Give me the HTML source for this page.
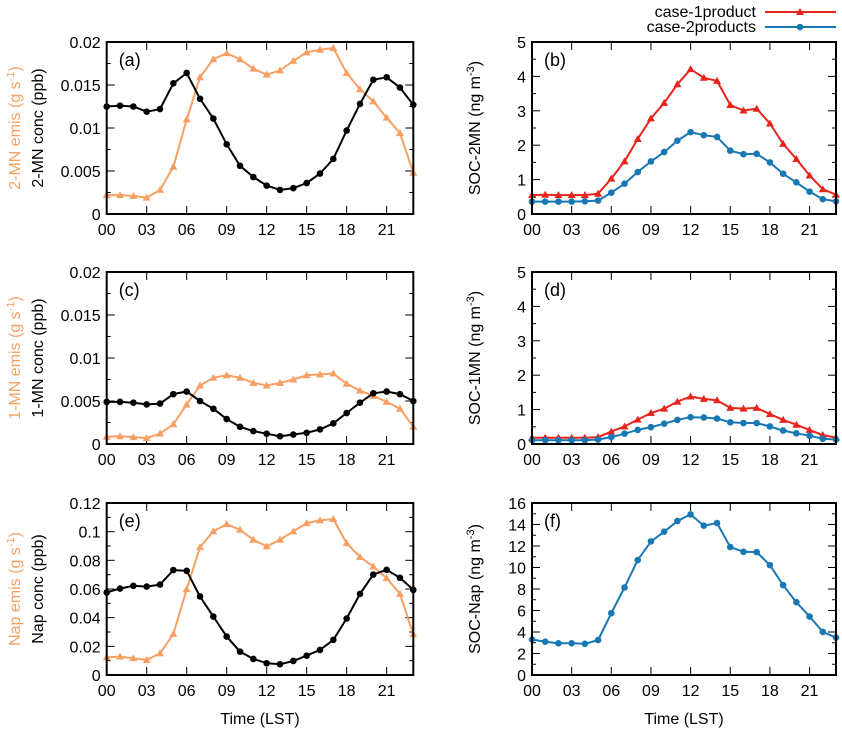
<!DOCTYPE html>
<html><head><meta charset="utf-8"><style>
body{margin:0;background:#fff;}
svg{display:block;font-family:"Liberation Sans",sans-serif;}
</style></head><body>
<svg id="fig" width="842" height="733"></svg>
<script>
const hours=[0,1,2,3,4,5,6,7,8,9,10,11,12,13,14,15,16,17,18,19,20,21,22,23];
const xTickLabels=["00","03","06","09","12","15","18","21"];
const emis2MN=[0.0022,0.0022,0.0021,0.0019,0.0028,0.0055,0.011,0.0159,0.018,0.0187,0.018,0.0169,0.0162,0.0167,0.0178,0.0188,0.0191,0.0193,0.0164,0.0145,0.0131,0.0112,0.0094,0.0048];
const conc2MN=[0.0125,0.0126,0.0125,0.0119,0.0122,0.0152,0.0164,0.0134,0.0111,0.0081,0.0056,0.0043,0.0033,0.0028,0.003,0.0036,0.0047,0.0064,0.0097,0.0128,0.0156,0.0159,0.0147,0.0127];
const soc2MN1=[0.55,0.56,0.55,0.55,0.55,0.59,1.03,1.53,2.18,2.78,3.23,3.77,4.21,3.96,3.87,3.17,3.01,3.06,2.63,2.04,1.6,1.12,0.72,0.56];
const soc2MN2=[0.36,0.36,0.36,0.36,0.37,0.39,0.62,0.88,1.22,1.53,1.8,2.13,2.38,2.29,2.24,1.84,1.74,1.75,1.5,1.17,0.92,0.65,0.43,0.37];
const emis1MN=[0.00085,0.0009,0.0008,0.0007,0.0012,0.0023,0.0046,0.0068,0.0077,0.008,0.0077,0.0071,0.0068,0.0071,0.0075,0.008,0.0081,0.0082,0.007,0.0062,0.0056,0.0049,0.0041,0.002];
const conc1MN=[0.0049,0.0049,0.0048,0.0046,0.0047,0.0058,0.0061,0.005,0.0041,0.0029,0.002,0.0015,0.0012,0.0009,0.0011,0.0013,0.0017,0.0024,0.0036,0.0048,0.0059,0.0061,0.0058,0.005];
const soc1MN1=[0.18,0.18,0.18,0.18,0.18,0.2,0.36,0.51,0.71,0.9,1.03,1.23,1.38,1.31,1.27,1.05,1.03,1.05,0.87,0.7,0.56,0.41,0.26,0.19];
const soc1MN2=[0.11,0.11,0.11,0.11,0.11,0.13,0.2,0.3,0.41,0.49,0.59,0.7,0.78,0.77,0.74,0.63,0.61,0.61,0.51,0.39,0.31,0.24,0.15,0.13];
const emisNap=[0.0124,0.0128,0.0117,0.0105,0.0151,0.0287,0.0599,0.0892,0.1002,0.1053,0.1014,0.0944,0.0897,0.0944,0.1002,0.106,0.1079,0.1088,0.092,0.0823,0.0757,0.0676,0.0566,0.0284];
const concNap=[0.0576,0.0603,0.0622,0.0617,0.0631,0.0732,0.0727,0.0548,0.0408,0.0268,0.0163,0.0112,0.0082,0.0075,0.0098,0.0135,0.0175,0.0245,0.0394,0.0566,0.0701,0.0734,0.0678,0.0594];
const socNap=[3.3,3.1,2.95,2.95,2.9,3.25,5.75,8.14,10.69,12.43,13.33,14.32,14.94,13.89,14.14,11.9,11.46,11.43,10.22,8.36,6.77,5.44,4.01,3.48];
const yTicksA=["0","0.005","0.01","0.015","0.02"];
const yTicksB=["0","1","2","3","4","5"];
const yTicksE=["0","0.02","0.04","0.06","0.08","0.1","0.12"];
const yTicksF=["0","2","4","6","8","10","12","14","16"];

const NS="http://www.w3.org/2000/svg";
const svg=document.getElementById('fig');
const ORANGE="#f8a064",RED="#e8241c",BLUE="#1878b4";
function mk(tag,attrs,parent){const e=document.createElementNS(NS,tag);for(const k in attrs)e.setAttribute(k,attrs[k]);(parent||svg).appendChild(e);return e;}
function txt(s,x,y,attrs,parent){const e=mk('text',Object.assign({x:x,y:y,'font-size':16},attrs),parent);e.textContent=s;return e;}

function panel(p){
  const g=mk('g',{});
  
  
  const X=h=>p.x0+(h-0)/23*(p.x1-p.x0);
  const Y=v=>p.y1-(v/p.ymax)*(p.y1-p.y0);
  // ticks y
  const n=p.yt.length-1;
  for(let i=0;i<=n;i++){
    const v=p.ymax*i/n,y=Y(v);
    mk('line',{x1:p.x0,x2:p.x0+8,y1:y,y2:y,stroke:'#000','stroke-width':1},g);
    mk('line',{x1:p.x1,x2:p.x1-8,y1:y,y2:y,stroke:'#000','stroke-width':1},g);
    const t=txt(p.yt[i],p.x0-6,y+6,{'text-anchor':'end'},g);
    
    
    if(i<n){const ym=Y(v+p.ymax/n/2);
      mk('line',{x1:p.x0,x2:p.x0+4,y1:ym,y2:ym,stroke:'#000'},g);
      mk('line',{x1:p.x1,x2:p.x1-4,y1:ym,y2:ym,stroke:'#000'},g);}
  }
  xTickLabels.forEach((l,i)=>{const x=X(i*3);
    mk('line',{x1:x,x2:x,y1:p.y1,y2:p.y1-8,stroke:'#000'},g);
    mk('line',{x1:x,x2:x,y1:p.y0,y2:p.y0+8,stroke:'#000'},g);
    const t=txt(l,x,p.y1+21,{'text-anchor':'middle'},g);
    
    
  });
  p.series.forEach(s=>{
    const pts=hours.map((h,i)=>X(h).toFixed(1)+','+Y(s.data[i]).toFixed(1)).join(' ');
    const l=mk('polyline',{points:pts,fill:'none',stroke:s.color,'stroke-width':2},g);
    
    
    hours.forEach((h,i)=>{const cx=X(h),cy=Y(s.data[i]);let m;
      if(s.marker==='tri') m=mk('polygon',{points:`${cx},${cy-4} ${cx-4},${cy+3} ${cx+4},${cy+3}`,fill:s.color},g);
      else m=mk('circle',{cx:cx,cy:cy,r:3.3,fill:s.color},g);
      
      
    });
  });
  mk('rect',{x:p.x0,y:p.y0,width:p.x1-p.x0,height:p.y1-p.y0,fill:'none',stroke:'#000','stroke-width':2},g);
  const lab=txt('('+p.id+')',p.x0+12,p.y0+24,{'font-size':18},g);
  
  
  p.ylabels.forEach(yl=>{const t=txt('',0,0,{'text-anchor':'middle',transform:`translate(${yl.x},${(p.y0+p.y1)/2}) rotate(-90)`,fill:yl.color},g);
    t.innerHTML=yl.html;
    
    });
}
const L={x0:106.7,x1:413.3},R={x0:532,x1:836};
const rows=[{y0:42,y1:214},{y0:272,y1:444},{y0:503,y1:675}];
panel({id:'a',...L,...rows[0],ymax:0.02,yt:yTicksA,series:[{data:emis2MN,color:ORANGE,marker:'tri',name:'emis-2mn'},{data:conc2MN,color:'#000',marker:'dot',name:'conc-2mn'}],
 ylabels:[{x:20,color:ORANGE,html:'2-MN emis (g s<tspan dy="-6" font-size="11">-1</tspan><tspan dy="6">)</tspan>'},{x:43,color:'#000',html:'2-MN conc (ppb)'}]});
panel({id:'b',...R,...rows[0],ymax:5,yt:yTicksB,series:[{data:soc2MN1,color:RED,marker:'tri',name:'case-1product'},{data:soc2MN2,color:BLUE,marker:'dot',name:'case-2products'}],
 ylabels:[{x:480,color:'#000',html:'SOC-2MN (ng m<tspan dy="-6" font-size="11">-3</tspan><tspan dy="6">)</tspan>'}]});
panel({id:'c',...L,...rows[1],ymax:0.02,yt:yTicksA,series:[{data:emis1MN,color:ORANGE,marker:'tri',name:'emis-1mn'},{data:conc1MN,color:'#000',marker:'dot',name:'conc-1mn'}],
 ylabels:[{x:20,color:ORANGE,html:'1-MN emis (g s<tspan dy="-6" font-size="11">-1</tspan><tspan dy="6">)</tspan>'},{x:43,color:'#000',html:'1-MN conc (ppb)'}]});
panel({id:'d',...R,...rows[1],ymax:5,yt:yTicksB,series:[{data:soc1MN1,color:RED,marker:'tri',name:'case-1product'},{data:soc1MN2,color:BLUE,marker:'dot',name:'case-2products'}],
 ylabels:[{x:480,color:'#000',html:'SOC-1MN (ng m<tspan dy="-6" font-size="11">-3</tspan><tspan dy="6">)</tspan>'}]});
panel({id:'e',...L,...rows[2],ymax:0.12,yt:yTicksE,series:[{data:emisNap,color:ORANGE,marker:'tri',name:'emis-nap'},{data:concNap,color:'#000',marker:'dot',name:'conc-nap'}],
 ylabels:[{x:20,color:ORANGE,html:'Nap emis (g s<tspan dy="-6" font-size="11">-1</tspan><tspan dy="6">)</tspan>'},{x:43,color:'#000',html:'Nap conc (ppb)'}]});
panel({id:'f',...R,...rows[2],ymax:16,yt:yTicksF,series:[{data:socNap,color:BLUE,marker:'dot',name:'soc-nap'}],
 ylabels:[{x:480,color:'#000',html:'SOC-Nap (ng m<tspan dy="-6" font-size="11">-3</tspan><tspan dy="6">)</tspan>'}]});
// x titles
[[260,'x-axis-title-left'],[684,'x-axis-title-right']].forEach(a=>{const t=txt('Time (LST)',a[0],724,{'text-anchor':'middle'});
 
 });
// legend
const lg=mk('g',{});


[[12,'case-1product',RED,'tri'],[27,'case-2products',BLUE,'dot']].forEach(e=>{
 const t=txt(e[1],756,e[0]+5,{'text-anchor':'end'},lg);
 
 
 mk('line',{x1:765,x2:836,y1:e[0],y2:e[0],stroke:e[2],'stroke-width':2},lg);
 if(e[3]==='tri') mk('polygon',{points:`800,${e[0]-4} 796,${e[0]+3} 804,${e[0]+3}`,fill:e[2]},lg);
 else mk('circle',{cx:800,cy:e[0],r:3.3,fill:e[2]},lg);
});
</script>
</body></html>
